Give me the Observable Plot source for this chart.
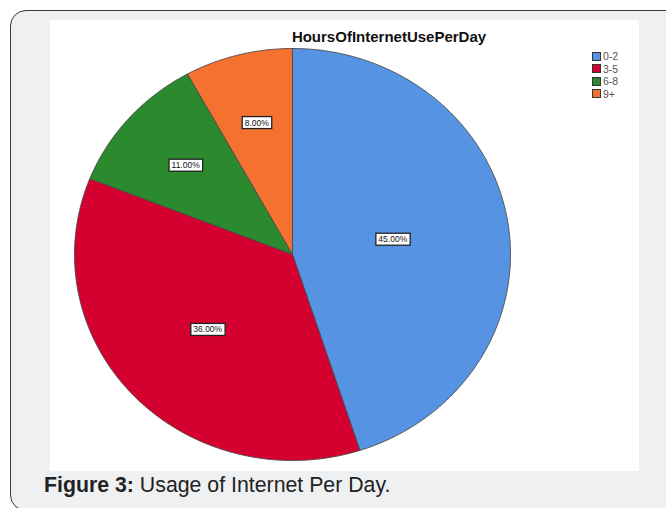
<!DOCTYPE html>
<html>
<head>
<meta charset="utf-8">
<script src="https://cdn.jsdelivr.net/npm/d3@7"></script>
<script src="https://cdn.jsdelivr.net/npm/@observablehq/plot@0.6"></script>
<style>
html, body { margin: 0; padding: 0; background: #fff; width: 666px; height: 508px; overflow: hidden; font-family: "Liberation Sans", Arial, sans-serif; }
#frame { position: absolute; left: 10px; top: 10px; width: 700px; height: 501px; border: 1.5px solid #3a3a3a; border-radius: 16px; background: #eff0f2; box-sizing: border-box; }
#panel { position: absolute; left: 50px; top: 20px; width: 589px; height: 451px; background: #fff; }
#title { position: absolute; left: 239px; width: 300px; top: 28px; text-align: center; font-weight: bold; font-size: 15px; color: #111; }
#legend { position: absolute; left: 592px; top: 50px; font-size: 10.5px; color: #555; }
#legend .row { height: 12.5px; display: flex; align-items: center; }
#legend .sw { width: 9px; height: 9px; border: 1px solid #333; margin-right: 2px; box-sizing: border-box; }
#caption { position: absolute; left: 44px; top: 473px; font-size: 21.3px; color: #222; white-space: nowrap; }
</style>
</head>
<body>
<div id="frame"></div>
<div id="panel"></div>
<div id="title"></div>
<div id="legend"></div>
<div id="caption"></div>
<script>
const categories = ["0-2", "3-5", "6-8", "9+"];
const percents = [45, 36, 11, 8];
const colors = ["#5694e3", "#d4002f", "#2b8a2e", "#f5712f"];
const chartTitle = "HoursOfInternetUsePerDay";
const captionBold = "Figure 3:";
const captionText = "Usage of Internet Per Day.";

// slice geometry (unit circle, clockwise from 12 o'clock)
const total = d3.sum(percents);
const pts = [];
const labels = [];
let cum = 0;
categories.forEach((cat, i) => {
  const a0 = cum / total * 2 * Math.PI;
  cum += percents[i];
  const a1 = cum / total * 2 * Math.PI;
  pts.push({cat, x: 0, y: 0});
  const n = Math.max(2, Math.ceil((a1 - a0) / (Math.PI / 360)));
  for (let k = 0; k <= n; k++) {
    const a = a0 + (a1 - a0) * k / n;
    pts.push({cat, x: Math.sin(a), y: Math.cos(a)});
  }
  pts.push({cat, x: 0, y: 0});
  // centroid of the sector
  const half = (a1 - a0) / 2;
  const f = 2 * Math.sin(half) / (3 * half);
  const mid = (a0 + a1) / 2;
  labels.push({cat, x: f * Math.sin(mid), y: f * Math.cos(mid), text: percents[i].toFixed(2) + "%"});
});

document.getElementById("title").textContent = chartTitle;
const cap = document.getElementById("caption");
const b = document.createElement("b"); b.textContent = captionBold;
cap.append(b, " " + captionText);

const leg = document.getElementById("legend");
categories.forEach((c, i) => {
  const row = document.createElement("div"); row.className = "row";
  const sw = document.createElement("div"); sw.className = "sw"; sw.style.background = colors[i];
  const t = document.createElement("span"); t.textContent = c;
  row.append(sw, t); leg.append(row);
});

const labelTexts = new Set(labels.map(d => d.text));

const chart = Plot.plot({
  width: 589,
  height: 451,
  margin: 0,
  style: {background: "transparent", overflow: "visible"},
  x: {domain: [-1, 1], range: [24, 460], axis: null},
  y: {domain: [-1, 1], range: [440, 28], axis: null},
  color: {domain: categories, range: colors},
  marks: [
    Plot.line(pts, {x: "x", y: "y", z: "cat", fill: "cat", stroke: "#4a4a4a", strokeWidth: 0.9, curve: "linear"}),
    Plot.text(labels, {x: "x", y: "y", text: "text", fontSize: 8.5, fill: "#111", fontFamily: "Liberation Sans, Arial, sans-serif"})
  ]
});
chart.style.position = "absolute";
chart.style.left = "0px";
chart.style.top = "0px";
document.getElementById("panel").append(chart);

// white boxes behind slice labels
chart.querySelectorAll("text").forEach(function(t) {
  if (!labelTexts.has(t.textContent)) return;
  let bb;
  try { bb = t.getBBox(); } catch (e) { bb = null; }
  if (!bb || bb.width === 0) {
    const w = t.textContent.length * 4.7;
    bb = {x: -w / 2, y: -5, width: w, height: 10};
  }
  const r = document.createElementNS("http://www.w3.org/2000/svg", "rect");
  r.setAttribute("x", bb.x - 2.5);
  r.setAttribute("y", bb.y - 1);
  r.setAttribute("width", bb.width + 5);
  r.setAttribute("height", bb.height + 2);
  r.setAttribute("fill", "#fff");
  r.setAttribute("stroke", "#222");
  r.setAttribute("stroke-width", "1.3");
  const tr = t.getAttribute("transform");
  if (tr) r.setAttribute("transform", tr);
  t.parentNode.insertBefore(r, t);
});
</script>
</body>
</html>
